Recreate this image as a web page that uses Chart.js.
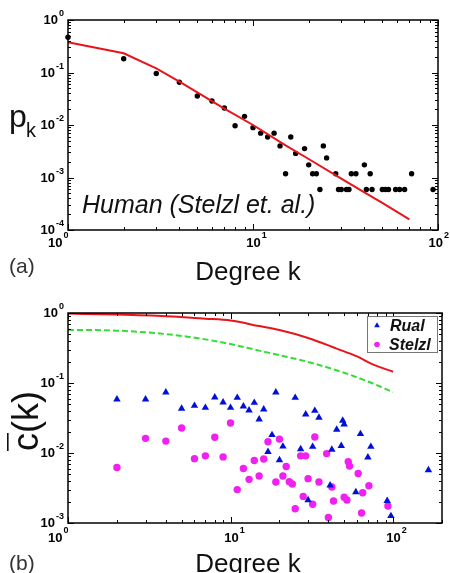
<!DOCTYPE html>
<html>
<head>
<meta charset="utf-8">
<script src="https://cdn.jsdelivr.net/npm/chart.js@4.4.1/dist/chart.umd.min.js"></script>
<style>
  body { margin: 0; background: #fff; width: 450px; height: 573px; overflow: hidden; }
  .panel { position: absolute; left: 0; }
</style>
</head>
<body>
<div class="panel" style="top:0"><canvas id="chartA" width="450" height="290"></canvas></div>
<div class="panel" style="top:290px"><canvas id="chartB" width="450" height="283"></canvas></div>
<script>
// (a) degree distribution, Human (Stelzl et. al.)
const degreeA = [1, 2, 3, 4, 5, 6, 7, 8, 9, 10, 11, 12, 13, 14, 15, 16, 17, 19, 20, 21, 22, 23, 24, 25,
  28, 29, 30, 32, 33, 34, 36, 40, 41, 43, 44, 50, 52, 54, 59, 62, 66, 72, 94];
const pkA = [0.47, 0.183, 0.096, 0.065, 0.0357, 0.0286, 0.0211, 0.0097, 0.0146, 0.0089, 0.0070, 0.0059,
  0.0070, 0.0040, 0.00118, 0.0059, 0.00288, 0.00355, 0.00174, 0.00118, 0.00118, 0.00059, 0.0040, 0.00236,
  0.00118, 0.00059, 0.00059, 0.00059, 0.00059, 0.00118, 0.00118, 0.00174, 0.00059, 0.00118, 0.00059,
  0.00059, 0.00059, 0.00059, 0.00059, 0.00059, 0.00059, 0.00118, 0.00059];
const fitDegreeA = [1, 2, 3, 4, 5, 7, 10, 15, 20, 30, 40, 50, 70];
const fitPkA = [0.376, 0.232, 0.12, 0.067, 0.042, 0.0206, 0.0100, 0.0041, 0.00225, 0.00095, 0.00052, 0.00033, 0.00016];

// (b) clustering spectrum
const degreeRual = [2, 3, 4, 5, 6, 7, 8, 9, 10, 11, 12, 13, 14, 15, 16, 17, 18, 19, 20, 21, 25, 27,
  29, 30, 32, 33, 35, 41, 42, 45, 48, 49, 50, 59, 63, 70, 73, 92, 97, 165];
const ckRual = [0.0585, 0.0585, 0.0736, 0.043, 0.0474, 0.0444, 0.0625, 0.053, 0.0444, 0.0617, 0.0465,
  0.0407, 0.0523, 0.0303, 0.042, 0.0104, 0.0181, 0.0736, 0.0079, 0.0124, 0.0617, 0.0114,
  0.0357, 0.00213, 0.0123, 0.0402, 0.032, 0.00345, 0.0112, 0.0216, 0.0127, 0.029, 0.0257, 0.00277,
  0.0187, 0.0087, 0.0123, 0.00208, 0.00126, 0.0057];
const degreeStelzl = [2, 3, 4, 5, 6, 7, 8, 9, 10, 11, 12, 13, 14, 15, 16, 17, 19, 20, 21, 22, 23, 24, 25,
  27, 28, 29, 30, 32, 33, 35, 39, 40, 42, 43, 50, 52, 53, 54, 61, 64, 65, 71, 93];
const ckStelzl = [0.0062, 0.0162, 0.0148, 0.0228, 0.0083, 0.0091, 0.0168, 0.0088, 0.0268, 0.0030, 0.0060,
  0.0042, 0.0078, 0.0047, 0.0082, 0.0145, 0.00385, 0.0158, 0.0047, 0.0064, 0.0039, 0.0036, 0.0016,
  0.0091, 0.0024, 0.0091, 0.0043, 0.00185, 0.0169, 0.00385, 0.0098, 0.0012, 0.00327, 0.00206,
  0.00233, 0.00213, 0.0075, 0.0065, 0.0051, 0.00139, 0.0027, 0.0034, 0.00175];
const modelDegreeRed = [1, 2, 4, 7, 10, 15, 20, 30, 45, 60, 75, 100];
const modelCkRed = [0.98, 0.95, 0.90, 0.83, 0.78, 0.65, 0.57, 0.44, 0.31, 0.24, 0.185, 0.145];
const modelDegreeGreen = [1, 2, 4, 7, 10, 15, 20, 30, 50, 70, 100];
const modelCkGreen = [0.575, 0.56, 0.50, 0.42, 0.36, 0.29, 0.25, 0.20, 0.14, 0.105, 0.074];

const FONT = '"Liberation Sans", Arial, Helvetica, sans-serif';

function toXY(xs, ys) {
  return xs.map((x, i) => ({ x: x, y: ys[i] }));
}

// minor + major tick values of a log axis
function logTicks(min, max) {
  const out = [];
  for (let d = Math.floor(Math.log10(min)); d <= Math.ceil(Math.log10(max)); d++) {
    for (let m = 1; m < 10; m++) {
      const v = m * Math.pow(10, d);
      if (v >= min * 0.999 && v <= max * 1.001) out.push({ v: v, major: m === 1, exp: d });
    }
  }
  return out;
}

// "10" with a raised exponent
function drawPow(ctx, exp, x, y, align) {
  const e = String(exp);
  ctx.font = 'bold 13px ' + FONT;
  const wb = ctx.measureText('10').width;
  ctx.font = 'bold 9px ' + FONT;
  const we = ctx.measureText(e).width;
  let x0 = x - wb / 2;
  if (align === 'right') x0 = x - wb - we - 1;
  if (x0 + wb + we + 1 > ctx.canvas.width - 1) x0 = ctx.canvas.width - 2 - wb - we;
  ctx.textAlign = 'left';
  ctx.textBaseline = 'middle';
  ctx.font = 'bold 13px ' + FONT;
  ctx.fillText('10', x0, y);
  ctx.font = 'bold 9px ' + FONT;
  ctx.fillText(e, x0 + wb + 1, y - 7);
}

// matlab style box with inward ticks and 10^n labels
const boxAxes = {
  id: 'boxAxes',
  afterDatasetsDraw(chart, args, o) {
    const { ctx, chartArea: a } = chart;
    const xs = chart.scales.x, ys = chart.scales.y;
    ctx.save();
    ctx.strokeStyle = '#000';
    ctx.fillStyle = '#000';
    ctx.lineWidth = 1;
    logTicks(xs.min, xs.max).forEach(t => {
      const px = Math.round(xs.getPixelForValue(t.v)) + 0.5;
      const len = t.major ? 6 : 3;
      ctx.beginPath();
      ctx.moveTo(px, a.bottom); ctx.lineTo(px, a.bottom - len);
      ctx.moveTo(px, a.top); ctx.lineTo(px, a.top + len);
      ctx.stroke();
      if (t.major) drawPow(ctx, t.exp, px, o.xLabelY, t.v === xs.min ? 'right' : 'center');
    });
    logTicks(ys.min, ys.max).forEach(t => {
      const py = Math.round(ys.getPixelForValue(t.v)) + 0.5;
      const len = t.major ? 6 : 3;
      ctx.beginPath();
      ctx.moveTo(a.left, py); ctx.lineTo(a.left + len, py);
      ctx.moveTo(a.right, py); ctx.lineTo(a.right - len, py);
      ctx.stroke();
      if (t.major) drawPow(ctx, t.exp, a.left - 4, py, 'right');
    });
    ctx.lineWidth = 1.5;
    ctx.strokeRect(a.left, a.top, a.width, a.height);

    // x title and panel letter
    ctx.fillStyle = '#111';
    ctx.textBaseline = 'alphabetic';
    ctx.textAlign = 'center';
    ctx.font = '26px ' + FONT;
    ctx.fillText('Degree k', 248, o.titleY);
    ctx.textAlign = 'left';
    ctx.font = '21px ' + FONT;
    ctx.fillStyle = '#333';
    ctx.fillText(o.letter, 9, o.letterY);
    ctx.restore();
  }
};

const commonScales = (xmax, ymin) => ({
  x: { type: 'logarithmic', min: 1, max: xmax, display: false },
  y: { type: 'logarithmic', min: ymin, max: 1, display: false }
});

// panel (a)
new Chart(document.getElementById('chartA'), {
  type: 'scatter',
  data: {
    datasets: [
      {
        data: toXY(fitDegreeA, fitPkA), showLine: true, borderColor: '#e8141b', borderWidth: 2,
        pointRadius: 0, clip: false
      },
      {
        data: toXY(degreeA, pkA), backgroundColor: '#000', borderColor: '#000', borderWidth: 0,
        pointRadius: 2.7, clip: false
      }
    ]
  },
  options: {
    responsive: false,
    animation: false,
    devicePixelRatio: 1,
    layout: { padding: { left: 68, right: 12, top: 20, bottom: 60 } },
    scales: commonScales(100, 1e-4),
    plugins: {
      legend: { display: false },
      tooltip: { enabled: false },
      boxAxes: { xLabelY: 243, titleY: 280, letter: '(a)', letterY: 273 }
    }
  },
  plugins: [boxAxes, {
    id: 'textA',
    afterDraw(chart) {
      const ctx = chart.ctx;
      ctx.save();
      ctx.fillStyle = '#111';
      ctx.textAlign = 'left';
      ctx.textBaseline = 'alphabetic';
      ctx.font = '32px ' + FONT;
      ctx.fillText('p', 9, 127);
      ctx.font = '20px ' + FONT;
      ctx.fillText('k', 26, 137);
      ctx.font = 'italic 25px ' + FONT;
      ctx.fillText('Human (Stelzl et. al.)', 82, 213);
      ctx.restore();
    }
  }]
});

// panel (b)
new Chart(document.getElementById('chartB'), {
  type: 'scatter',
  data: {
    datasets: [
      {
        label: 'Rual', data: toXY(degreeRual, ckRual), pointStyle: 'triangle',
        backgroundColor: '#0010d8', borderColor: '#0010d8', borderWidth: 0, pointRadius: 4.3, clip: false
      },
      {
        label: 'Stelzl', data: toXY(degreeStelzl, ckStelzl), pointStyle: 'circle',
        backgroundColor: '#f020f0', borderColor: '#f020f0', borderWidth: 0, pointRadius: 3.7, clip: false
      },
      {
        data: toXY(modelDegreeRed, modelCkRed), showLine: true, borderColor: '#e8141b', borderWidth: 2,
        pointRadius: 0, cubicInterpolationMode: 'monotone'
      },
      {
        data: toXY(modelDegreeGreen, modelCkGreen), showLine: true, borderColor: '#33dd33', borderWidth: 2,
        borderDash: [6, 3], pointRadius: 0, cubicInterpolationMode: 'monotone'
      }
    ]
  },
  options: {
    responsive: false,
    animation: false,
    devicePixelRatio: 1,
    layout: { padding: { left: 68, right: 8, top: 23, bottom: 50 } },
    scales: commonScales(200, 1e-3),
    plugins: {
      legend: { display: false },
      tooltip: { enabled: false },
      boxAxes: { xLabelY: 248, titleY: 282, letter: '(b)', letterY: 280 }
    }
  },
  plugins: [boxAxes, {
    id: 'textB',
    afterDraw(chart) {
      const ctx = chart.ctx;
      ctx.save();
      // rotated y title with overbar
      ctx.fillStyle = '#111';
      ctx.translate(38, 131);
      ctx.rotate(-Math.PI / 2);
      ctx.textAlign = 'center';
      ctx.textBaseline = 'alphabetic';
      ctx.font = '36px ' + FONT;
      ctx.fillText('c(k)', 0, 0);
      const w = ctx.measureText('c(k)').width;
      const wc = ctx.measureText('c').width;
      ctx.fillRect(-w / 2, -31, wc, 1.6);
      ctx.restore();

      // legend box
      const ds = chart.data.datasets;
      ctx.save();
      ctx.fillStyle = '#fff';
      ctx.fillRect(367.5, 26.5, 70, 36);
      ctx.strokeStyle = '#777';
      ctx.lineWidth = 1;
      ctx.strokeRect(367.5, 26.5, 70, 36);
      Chart.helpers.drawPoint(ctx, { pointStyle: 'triangle', radius: 3.3, borderWidth: 0 }, 377, 35.5);
      ctx.fillStyle = ds[0].backgroundColor;
      ctx.fill();
      ctx.beginPath();
      ctx.arc(377, 54.5, 2.8, 0, Math.PI * 2);
      ctx.fillStyle = ds[1].backgroundColor;
      ctx.fill();
      ctx.fillStyle = '#111';
      ctx.font = 'bold italic 16px ' + FONT;
      ctx.textAlign = 'left';
      ctx.fillText(ds[0].label, 390, 41);
      ctx.fillText(ds[1].label, 389, 60);
      ctx.restore();
    }
  }]
});
</script>
</body>
</html>
